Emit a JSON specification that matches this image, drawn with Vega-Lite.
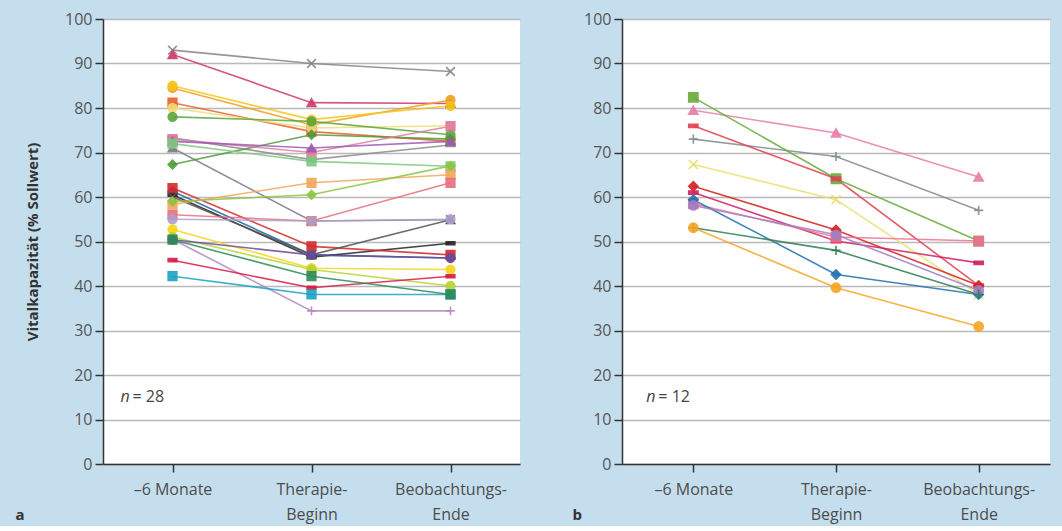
{
  "$schema": "https://vega.github.io/schema/vega-lite/v6.json",
  "background": "#c5deee",
  "padding": {"left": 15, "top": 11, "right": 12, "bottom": 4},
  "config": {
    "font": "Open Sans",
    "view": {"fill": "white", "stroke": null},
    "axis": {
      "domainColor": "#333333", "domainWidth": 1.5,
      "tickColor": "#333333", "tickWidth": 1.5, "tickSize": 8,
      "labelFontSize": 16, "labelColor": "#555555", "labelFont": "Open Sans",
      "titleFont": "Open Sans", "titleColor": "#333333"
    }
  },
  "datasets": {
    "a": [
      {"id":"a1","t":"–6 Monate","v":93},{"id":"a1","t":"Therapie-Beginn","v":90},{"id":"a1","t":"Beobachtungs-Ende","v":88.2},
      {"id":"a2","t":"–6 Monate","v":92},{"id":"a2","t":"Therapie-Beginn","v":81.2},{"id":"a2","t":"Beobachtungs-Ende","v":81},
      {"id":"a3","t":"–6 Monate","v":84.5},{"id":"a3","t":"Therapie-Beginn","v":76.2},{"id":"a3","t":"Beobachtungs-Ende","v":81.8},
      {"id":"a4","t":"–6 Monate","v":85},{"id":"a4","t":"Therapie-Beginn","v":77.4},{"id":"a4","t":"Beobachtungs-Ende","v":80.5},
      {"id":"a5","t":"–6 Monate","v":81.2},{"id":"a5","t":"Therapie-Beginn","v":74.7},{"id":"a5","t":"Beobachtungs-Ende","v":72.5},
      {"id":"a6","t":"–6 Monate","v":80},{"id":"a6","t":"Therapie-Beginn","v":75.5},{"id":"a6","t":"Beobachtungs-Ende","v":76},
      {"id":"a7","t":"–6 Monate","v":78},{"id":"a7","t":"Therapie-Beginn","v":77},{"id":"a7","t":"Beobachtungs-Ende","v":74},
      {"id":"a8","t":"–6 Monate","v":73.3},{"id":"a8","t":"Therapie-Beginn","v":68.4},{"id":"a8","t":"Beobachtungs-Ende","v":71.7},
      {"id":"a9","t":"–6 Monate","v":71},{"id":"a9","t":"Therapie-Beginn","v":54.6},{"id":"a9","t":"Beobachtungs-Ende","v":54.9},
      {"id":"a10","t":"–6 Monate","v":67.3},{"id":"a10","t":"Therapie-Beginn","v":74},{"id":"a10","t":"Beobachtungs-Ende","v":73},
      {"id":"a11","t":"–6 Monate","v":73},{"id":"a11","t":"Therapie-Beginn","v":70},{"id":"a11","t":"Beobachtungs-Ende","v":75.9},
      {"id":"a12","t":"–6 Monate","v":72.5},{"id":"a12","t":"Therapie-Beginn","v":71},{"id":"a12","t":"Beobachtungs-Ende","v":72.5},
      {"id":"a13","t":"–6 Monate","v":72},{"id":"a13","t":"Therapie-Beginn","v":68},{"id":"a13","t":"Beobachtungs-Ende","v":66.9},
      {"id":"a14","t":"–6 Monate","v":61.3},{"id":"a14","t":"Therapie-Beginn","v":47},{"id":"a14","t":"Beobachtungs-Ende","v":46.3},
      {"id":"a15","t":"–6 Monate","v":60.5},{"id":"a15","t":"Therapie-Beginn","v":46.5},{"id":"a15","t":"Beobachtungs-Ende","v":49.6},
      {"id":"a16","t":"–6 Monate","v":62},{"id":"a16","t":"Therapie-Beginn","v":48.9},{"id":"a16","t":"Beobachtungs-Ende","v":47},
      {"id":"a17","t":"–6 Monate","v":60},{"id":"a17","t":"Therapie-Beginn","v":47},{"id":"a17","t":"Beobachtungs-Ende","v":54.9},
      {"id":"a18","t":"–6 Monate","v":58.3},{"id":"a18","t":"Therapie-Beginn","v":63.2},{"id":"a18","t":"Beobachtungs-Ende","v":65},
      {"id":"a19","t":"–6 Monate","v":56},{"id":"a19","t":"Therapie-Beginn","v":54.6},{"id":"a19","t":"Beobachtungs-Ende","v":63.2},
      {"id":"a20","t":"–6 Monate","v":55},{"id":"a20","t":"Therapie-Beginn","v":54.6},{"id":"a20","t":"Beobachtungs-Ende","v":55},
      {"id":"a21","t":"–6 Monate","v":59},{"id":"a21","t":"Therapie-Beginn","v":60.5},{"id":"a21","t":"Beobachtungs-Ende","v":67},
      {"id":"a22","t":"–6 Monate","v":52.7},{"id":"a22","t":"Therapie-Beginn","v":44},{"id":"a22","t":"Beobachtungs-Ende","v":43.7},
      {"id":"a23","t":"–6 Monate","v":51},{"id":"a23","t":"Therapie-Beginn","v":43.7},{"id":"a23","t":"Beobachtungs-Ende","v":40},
      {"id":"a24","t":"–6 Monate","v":50.5},{"id":"a24","t":"Therapie-Beginn","v":34.4},{"id":"a24","t":"Beobachtungs-Ende","v":34.4},
      {"id":"a25","t":"–6 Monate","v":50.4},{"id":"a25","t":"Therapie-Beginn","v":47},{"id":"a25","t":"Beobachtungs-Ende","v":46.3},
      {"id":"a26","t":"–6 Monate","v":45.8},{"id":"a26","t":"Therapie-Beginn","v":39.6},{"id":"a26","t":"Beobachtungs-Ende","v":42.2},
      {"id":"a27","t":"–6 Monate","v":42.2},{"id":"a27","t":"Therapie-Beginn","v":38.1},{"id":"a27","t":"Beobachtungs-Ende","v":38.1},
      {"id":"a28","t":"–6 Monate","v":50.4},{"id":"a28","t":"Therapie-Beginn","v":42.2},{"id":"a28","t":"Beobachtungs-Ende","v":38.1}
    ],
    "b": [
      {"id":"b1","t":"–6 Monate","v":79.5},{"id":"b1","t":"Therapie-Beginn","v":74.4},{"id":"b1","t":"Beobachtungs-Ende","v":64.5},
      {"id":"b2","t":"–6 Monate","v":73},{"id":"b2","t":"Therapie-Beginn","v":69.1},{"id":"b2","t":"Beobachtungs-Ende","v":57},
      {"id":"b3","t":"–6 Monate","v":82.4},{"id":"b3","t":"Therapie-Beginn","v":64.1},{"id":"b3","t":"Beobachtungs-Ende","v":50.1},
      {"id":"b4","t":"–6 Monate","v":76},{"id":"b4","t":"Therapie-Beginn","v":64.1},{"id":"b4","t":"Beobachtungs-Ende","v":40.1},
      {"id":"b5","t":"–6 Monate","v":67.3},{"id":"b5","t":"Therapie-Beginn","v":59.4},{"id":"b5","t":"Beobachtungs-Ende","v":38.1},
      {"id":"b6","t":"–6 Monate","v":62.4},{"id":"b6","t":"Therapie-Beginn","v":52.6},{"id":"b6","t":"Beobachtungs-Ende","v":40.1},
      {"id":"b7","t":"–6 Monate","v":61},{"id":"b7","t":"Therapie-Beginn","v":50.1},{"id":"b7","t":"Beobachtungs-Ende","v":45.2},
      {"id":"b8","t":"–6 Monate","v":58.5},{"id":"b8","t":"Therapie-Beginn","v":51},{"id":"b8","t":"Beobachtungs-Ende","v":50.1},
      {"id":"b9","t":"–6 Monate","v":59.4},{"id":"b9","t":"Therapie-Beginn","v":42.6},{"id":"b9","t":"Beobachtungs-Ende","v":38.1},
      {"id":"b10","t":"–6 Monate","v":58.1},{"id":"b10","t":"Therapie-Beginn","v":51.5},{"id":"b10","t":"Beobachtungs-Ende","v":39},
      {"id":"b11","t":"–6 Monate","v":53.1},{"id":"b11","t":"Therapie-Beginn","v":48},{"id":"b11","t":"Beobachtungs-Ende","v":38.1},
      {"id":"b12","t":"–6 Monate","v":53.1},{"id":"b12","t":"Therapie-Beginn","v":39.6},{"id":"b12","t":"Beobachtungs-Ende","v":30.9}
    ],
    "na": [{"t":"–6 Monate","v":15,"n":"n","rest":"= 28"}],
    "nb": [{"t":"–6 Monate","v":15,"n":"n","rest":"= 12"}]
  },
  "spacing": 52,
  "resolve": {"scale": {"stroke": "independent", "fill": "independent", "shape": "independent"}},
  "hconcat": [
    {
      "width": 417,
      "height": 445,
      "encoding": {
        "x": {"field": "t", "type": "nominal",
          "sort": ["–6 Monate", "Therapie-Beginn", "Beobachtungs-Ende"],
          "scale": {"type": "point", "padding": 0.5},
          "axis": {"title": "a", "titleX": -88, "titleY": 50, "titleAlign": "left", "titleBaseline": "middle", "titleFontSize": 15, "titleFontWeight": "bold", "titleAngle": 0,
            "labelAngle": 0, "labelPadding": 9, "labelLineHeight": 25, "labelColor": "#4d4d4d",
            "labelExpr": "indexof(datum.value, '-') > 0 ? [slice(datum.value, 0, indexof(datum.value, '-') + 1), slice(datum.value, indexof(datum.value, '-') + 1)] : datum.value"}},
        "y": {"field": "v", "type": "quantitative",
          "scale": {"domain": [0, 100], "nice": false},
          "axis": {"title": "Vitalkapazität (% Sollwert)", "titleFontSize": 15, "titleFontWeight": "bold", "titlePadding": 24,
            "values": [0,10,20,30,40,50,60,70,80,90,100], "labelPadding": 3,
            "grid": true, "gridColor": "#b9b9b9", "gridWidth": 1.5}}
      },
      "layer": [
        {
          "data": {"name": "a"},
          "mark": {"type": "line", "strokeWidth": 1.6, "opacity": 0.85},
          "encoding": {
            "detail": {"field": "id"},
            "stroke": {"field": "id", "type": "nominal", "legend": null,
              "scale": {"domain": ["a1","a2","a3","a4","a5","a6","a7","a8","a9","a10","a11","a12","a13","a14","a15","a16","a17","a18","a19","a20","a21","a22","a23","a24","a25","a26","a27","a28"],
                "range": ["#8a7f8e","#d0386a","#f0a020","#f5c518","#e8622a","#f0dc78","#5aa63c","#8c8c8c","#7a7a8a","#4f9a3a","#e07aa0","#9b59b6","#7fc97f","#1f5fa8","#222222","#d62728","#555555","#f2a65a","#e86f7f","#b09fca","#8cc63f","#f7d417","#b5d334","#b486c0","#6b4c9a","#d81b43","#1ba1c4","#2e8b57"]}}
          }
        },
        {
          "data": {"name": "a"},
          "mark": {"type": "point", "filled": true, "size": 75, "strokeWidth": 1.6, "opacity": 0.9},
          "encoding": {
            "fill": {"field": "id", "type": "nominal", "legend": null,
              "scale": {"domain": ["a1","a2","a3","a4","a5","a6","a7","a8","a9","a10","a11","a12","a13","a14","a15","a16","a17","a18","a19","a20","a21","a22","a23","a24","a25","a26","a27","a28"],
                "range": ["#8a7f8e","#d0386a","#f0a020","#f5c518","#e8622a","#f0dc78","#5aa63c","#8c8c8c","#7a7a8a","#4f9a3a","#e07aa0","#9b59b6","#7fc97f","#1f5fa8","#222222","#d62728","#555555","#f2a65a","#e86f7f","#b09fca","#8cc63f","#f7d417","#b5d334","#b486c0","#6b4c9a","#d81b43","#1ba1c4","#2e8b57"]}},
            "stroke": {"field": "id", "type": "nominal", "legend": null,
              "scale": {"domain": ["a1","a2","a3","a4","a5","a6","a7","a8","a9","a10","a11","a12","a13","a14","a15","a16","a17","a18","a19","a20","a21","a22","a23","a24","a25","a26","a27","a28"],
                "range": ["#8a7f8e","#d0386a","#f0a020","#f5c518","#e8622a","#f0dc78","#5aa63c","#8c8c8c","#7a7a8a","#4f9a3a","#e07aa0","#9b59b6","#7fc97f","#1f5fa8","#222222","#d62728","#555555","#f2a65a","#e86f7f","#b09fca","#8cc63f","#f7d417","#b5d334","#b486c0","#6b4c9a","#d81b43","#1ba1c4","#2e8b57"]}},
            "shape": {"field": "id", "type": "nominal", "legend": null,
              "scale": {"domain": ["a1","a2","a3","a4","a5","a6","a7","a8","a9","a10","a11","a12","a13","a14","a15","a16","a17","a18","a19","a20","a21","a22","a23","a24","a25","a26","a27","a28"],
                "range": ["M-1,-1L1,1M-1,1L1,-1","triangle-up","circle","circle","square","circle","circle","M-1,-0.35L1,-0.35L1,0.35L-1,0.35Z","triangle-up","diamond","square","triangle-up","square","diamond","M-1,-0.35L1,-0.35L1,0.35L-1,0.35Z","square","M-1,-1L1,1M-1,1L1,-1","square","square","circle","diamond","circle","circle","M-1,0L1,0M0,-1L0,1","circle","M-1,-0.35L1,-0.35L1,0.35L-1,0.35Z","square","square"]}}
          }
        },
        {
          "data": {"name": "na"},
          "mark": {"type": "text", "align": "left", "baseline": "middle", "dx": -52, "fontSize": 16, "fontStyle": "italic", "color": "#444444"},
          "encoding": {"text": {"field": "n"}}
        },
        {
          "data": {"name": "na"},
          "mark": {"type": "text", "align": "left", "baseline": "middle", "dx": -40, "fontSize": 16, "color": "#444444"},
          "encoding": {"text": {"field": "rest"}}
        }
      ]
    },
    {
      "width": 428,
      "height": 445,
      "encoding": {
        "x": {"field": "t", "type": "nominal",
          "sort": ["–6 Monate", "Therapie-Beginn", "Beobachtungs-Ende"],
          "scale": {"type": "point", "padding": 0.5},
          "axis": {"title": "b", "titleX": -50, "titleY": 50, "titleAlign": "left", "titleBaseline": "middle", "titleFontSize": 15, "titleFontWeight": "bold", "titleAngle": 0,
            "labelAngle": 0, "labelPadding": 9, "labelLineHeight": 25, "labelColor": "#4d4d4d",
            "labelExpr": "indexof(datum.value, '-') > 0 ? [slice(datum.value, 0, indexof(datum.value, '-') + 1), slice(datum.value, indexof(datum.value, '-') + 1)] : datum.value"}},
        "y": {"field": "v", "type": "quantitative",
          "scale": {"domain": [0, 100], "nice": false},
          "axis": {"title": null,
            "values": [0,10,20,30,40,50,60,70,80,90,100], "labelPadding": 3,
            "grid": true, "gridColor": "#b9b9b9", "gridWidth": 1.5}}
      },
      "layer": [
        {
          "data": {"name": "b"},
          "mark": {"type": "line", "strokeWidth": 1.6, "opacity": 0.85},
          "encoding": {
            "detail": {"field": "id"},
            "stroke": {"field": "id", "type": "nominal", "legend": null,
              "scale": {"domain": ["b1","b2","b3","b4","b5","b6","b7","b8","b9","b10","b11","b12"],
                "range": ["#e87da8","#7f8c8d","#6aaa3a","#e04050","#e8e070","#d42020","#d02060","#f07090","#2070b0","#a080c0","#2e7d4f","#f5a623"]}}
          }
        },
        {
          "data": {"name": "b"},
          "mark": {"type": "point", "filled": true, "size": 85, "strokeWidth": 1.6, "opacity": 0.9},
          "encoding": {
            "fill": {"field": "id", "type": "nominal", "legend": null,
              "scale": {"domain": ["b1","b2","b3","b4","b5","b6","b7","b8","b9","b10","b11","b12"],
                "range": ["#e87da8","#7f8c8d","#6aaa3a","#e04050","#e8e070","#d42020","#d02060","#f07090","#2070b0","#a080c0","#2e7d4f","#f5a623"]}},
            "stroke": {"field": "id", "type": "nominal", "legend": null,
              "scale": {"domain": ["b1","b2","b3","b4","b5","b6","b7","b8","b9","b10","b11","b12"],
                "range": ["#e87da8","#7f8c8d","#6aaa3a","#e04050","#e8e070","#d42020","#d02060","#f07090","#2070b0","#a080c0","#2e7d4f","#f5a623"]}},
            "shape": {"field": "id", "type": "nominal", "legend": null,
              "scale": {"domain": ["b1","b2","b3","b4","b5","b6","b7","b8","b9","b10","b11","b12"],
                "range": ["triangle-up","M-1,0L1,0M0,-1L0,1","square","M-1,-0.35L1,-0.35L1,0.35L-1,0.35Z","M-1,-1L1,1M-1,1L1,-1","diamond","M-1,-0.35L1,-0.35L1,0.35L-1,0.35Z","square","diamond","circle","M-1,0L1,0M0,-1L0,1","circle"]}}
          }
        },
        {
          "data": {"name": "nb"},
          "mark": {"type": "text", "align": "left", "baseline": "middle", "dx": -47, "fontSize": 16, "fontStyle": "italic", "color": "#444444"},
          "encoding": {"text": {"field": "n"}}
        },
        {
          "data": {"name": "nb"},
          "mark": {"type": "text", "align": "left", "baseline": "middle", "dx": -35, "fontSize": 16, "color": "#444444"},
          "encoding": {"text": {"field": "rest"}}
        }
      ]
    }
  ]
}
